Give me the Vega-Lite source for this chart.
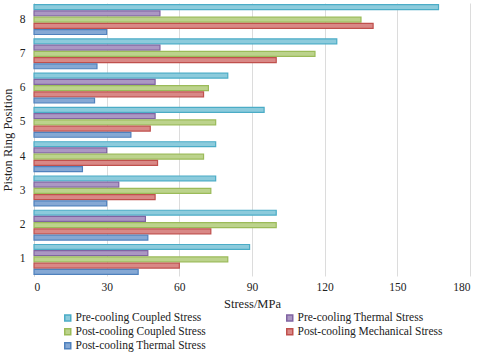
{
  "$schema": "https://vega.github.io/schema/vega-lite/v6.json",
  "width": 480,
  "height": 354,
  "autosize": {"type": "fit", "contains": "padding"},
  "padding": {"left": 1, "right": 10, "top": 3, "bottom": 2},
  "background": "white",
  "config": {
    "font": "Liberation Serif, Times New Roman, serif",
    "view": {"stroke": null},
    "axis": {"labelFont": "Liberation Serif, serif", "titleFont": "Liberation Serif, serif", "labelColor": "#222", "titleColor": "#222", "titleFontWeight": "normal"},
    "legend": {"labelFont": "Liberation Serif, serif", "layout": {"bottom": {"anchor": "middle"}}}
  },
  "data": {
    "values": [
      {"pos": "1", "series": "Pre-cooling Coupled Stress", "v": 89},
      {"pos": "1", "series": "Pre-cooling Thermal Stress", "v": 47},
      {"pos": "1", "series": "Post-cooling Coupled Stress", "v": 80},
      {"pos": "1", "series": "Post-cooling Mechanical Stress", "v": 60},
      {"pos": "1", "series": "Post-cooling Thermal Stress", "v": 43},
      {"pos": "2", "series": "Pre-cooling Coupled Stress", "v": 100},
      {"pos": "2", "series": "Pre-cooling Thermal Stress", "v": 46},
      {"pos": "2", "series": "Post-cooling Coupled Stress", "v": 100},
      {"pos": "2", "series": "Post-cooling Mechanical Stress", "v": 73},
      {"pos": "2", "series": "Post-cooling Thermal Stress", "v": 47},
      {"pos": "3", "series": "Pre-cooling Coupled Stress", "v": 75},
      {"pos": "3", "series": "Pre-cooling Thermal Stress", "v": 35},
      {"pos": "3", "series": "Post-cooling Coupled Stress", "v": 73},
      {"pos": "3", "series": "Post-cooling Mechanical Stress", "v": 50},
      {"pos": "3", "series": "Post-cooling Thermal Stress", "v": 30},
      {"pos": "4", "series": "Pre-cooling Coupled Stress", "v": 75},
      {"pos": "4", "series": "Pre-cooling Thermal Stress", "v": 30},
      {"pos": "4", "series": "Post-cooling Coupled Stress", "v": 70},
      {"pos": "4", "series": "Post-cooling Mechanical Stress", "v": 51},
      {"pos": "4", "series": "Post-cooling Thermal Stress", "v": 20},
      {"pos": "5", "series": "Pre-cooling Coupled Stress", "v": 95},
      {"pos": "5", "series": "Pre-cooling Thermal Stress", "v": 50},
      {"pos": "5", "series": "Post-cooling Coupled Stress", "v": 75},
      {"pos": "5", "series": "Post-cooling Mechanical Stress", "v": 48},
      {"pos": "5", "series": "Post-cooling Thermal Stress", "v": 40},
      {"pos": "6", "series": "Pre-cooling Coupled Stress", "v": 80},
      {"pos": "6", "series": "Pre-cooling Thermal Stress", "v": 50},
      {"pos": "6", "series": "Post-cooling Coupled Stress", "v": 72},
      {"pos": "6", "series": "Post-cooling Mechanical Stress", "v": 70},
      {"pos": "6", "series": "Post-cooling Thermal Stress", "v": 25},
      {"pos": "7", "series": "Pre-cooling Coupled Stress", "v": 125},
      {"pos": "7", "series": "Pre-cooling Thermal Stress", "v": 52},
      {"pos": "7", "series": "Post-cooling Coupled Stress", "v": 116},
      {"pos": "7", "series": "Post-cooling Mechanical Stress", "v": 100},
      {"pos": "7", "series": "Post-cooling Thermal Stress", "v": 26},
      {"pos": "8", "series": "Pre-cooling Coupled Stress", "v": 167},
      {"pos": "8", "series": "Pre-cooling Thermal Stress", "v": 52},
      {"pos": "8", "series": "Post-cooling Coupled Stress", "v": 135},
      {"pos": "8", "series": "Post-cooling Mechanical Stress", "v": 140},
      {"pos": "8", "series": "Post-cooling Thermal Stress", "v": 30}
    ]
  },
  "mark": {"type": "bar", "strokeWidth": 1.2, "cornerRadius": 0},
  "encoding": {
    "y": {
      "field": "pos", "type": "ordinal", "sort": "descending",
      "scale": {"paddingInner": 0.13, "paddingOuter": 0.05},
      "axis": {"title": "Piston Ring Position", "titleFontSize": 12.5, "labelFontSize": 11.5, "ticks": false, "domainColor": "#d0d0d0", "labelPadding": 9, "titlePadding": 5, "labelAngle": 0}
    },
    "x": {
      "field": "v", "type": "quantitative",
      "scale": {"domain": [0, 180]},
      "axis": {"title": "Stress/MPa", "titleFontSize": 12.5, "labelFontSize": 11.5, "values": [0, 30, 60, 90, 120, 150, 180], "ticks": false, "domain": false, "gridColor": "#dcdcdc", "labelPadding": 5, "titlePadding": 5}
    },
    "yOffset": {
      "field": "series", "type": "nominal",
      "sort": ["Pre-cooling Coupled Stress", "Pre-cooling Thermal Stress", "Post-cooling Coupled Stress", "Post-cooling Mechanical Stress", "Post-cooling Thermal Stress"],
      "scale": {"paddingInner": 0.22}
    },
    "fill": {
      "field": "series", "type": "nominal",
      "scale": {
        "domain": ["Pre-cooling Coupled Stress", "Pre-cooling Thermal Stress", "Post-cooling Coupled Stress", "Post-cooling Mechanical Stress", "Post-cooling Thermal Stress"],
        "range": ["#8ccbdc", "#ab97c3", "#bcd38c", "#d98886", "#85a8d4"]
      },
      "legend": {"title": null, "orient": "bottom", "offset": 2, "columns": 2, "columnPadding": 77, "rowPadding": 1, "labelFontSize": 11.5, "symbolType": "square", "symbolSize": 36, "labelColor": "#222", "labelOffset": 2}
    },
    "stroke": {
      "field": "series", "type": "nominal",
      "scale": {
        "domain": ["Pre-cooling Coupled Stress", "Pre-cooling Thermal Stress", "Post-cooling Coupled Stress", "Post-cooling Mechanical Stress", "Post-cooling Thermal Stress"],
        "range": ["#4bacc6", "#8064a2", "#9bbb59", "#c0504d", "#4f81bd"]
      },
      "legend": {"title": null, "orient": "bottom", "offset": 2, "columns": 2, "columnPadding": 77, "rowPadding": 1, "labelFontSize": 11.5, "symbolType": "square", "symbolSize": 36, "labelColor": "#222", "labelOffset": 2}
    }
  }
}
